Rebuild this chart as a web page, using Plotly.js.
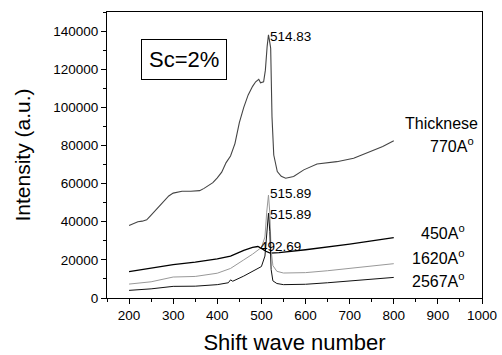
<!DOCTYPE html>
<html>
<head>
<meta charset="utf-8">
<script src="https://cdn.plot.ly/plotly-3.0.1.min.js"></script>
<style>html,body{margin:0;padding:0;background:#fff;}#chart{width:502px;height:355px;}</style>
</head>
<body>
<div id="chart"></div>
<script>
// Thickness 770 A
const x770 = [200,210,220,230,240,250,260,270,280,290,300,310,320,340,360,370,380,390,400,410,420,430,440,450,460,470,480,487,494,498,505,509,513,516,518,521,524,528,536,545,555,573,596,626,671,709,747,775,800];
const y770 = [38000,39000,40000,40300,41000,43500,46000,49000,51500,53500,55000,55500,56000,56000,56300,57500,59000,60500,63000,66000,71000,74500,81000,92000,100000,106500,111000,113400,114700,112900,113400,119500,132000,138000,135500,131000,95000,75000,66300,63800,62800,63700,67200,70300,71500,73300,76800,79500,82500];
// Thickness 450 A
const x450 = [200,250,300,350,400,430,460,480,492,500,510,520,540,600,650,700,750,800];
const y450 = [13800,15500,17500,18800,20500,22000,25000,26500,27000,26000,24500,23500,23800,25300,26700,28300,30000,31700];
// Thickness 1620 A
const x1620 = [200,250,300,350,400,430,460,480,500,508,512,516,519,522,526,535,550,600,650,700,750,800];
const y1620 = [7300,8500,11000,11300,13000,15500,20000,23000,26500,32000,45000,54000,45000,25000,17000,14000,13100,13300,14300,15500,16700,18000];
// Thickness 2567 A
const x2567 = [200,250,300,350,400,425,430,435,460,480,500,508,512,516,519,522,526,535,550,600,650,700,750,800];
const y2567 = [4000,4800,6100,6200,7000,8000,9500,8800,11500,14000,16500,22000,35000,44500,35000,15000,9000,7600,7000,7200,8000,8800,9700,10800];

// peak labels
const peakText = ["514.83","515.89","515.89","492.69"];
const peakX = [514.83,515.89,515.89,492.69];
const peakY = [137300,54600,43600,26900];

const thickLabels = ["770A<sup>o</sup>","450A<sup>o</sup>","1620A<sup>o</sup>","2567A<sup>o</sup>"];

const F = "'Liberation Sans', Arial, sans-serif";

const traces = [
  {x:x770, y:y770, mode:'lines', line:{color:'#444444', width:1.1}},
  {x:x450, y:y450, mode:'lines', line:{color:'#000000', width:1.3}},
  {x:x1620, y:y1620, mode:'lines', line:{color:'#999999', width:1}},
  {x:x2567, y:y2567, mode:'lines', line:{color:'#111111', width:1}}
];

const L = 107, R = 482, T = 12, B = 298;
const px = v => (v - L) / (R - L);
const py = v => (B - v) / (B - T);

const ann = [];
for (let i=0;i<peakText.length;i++){
  ann.push({x:peakX[i], y:peakY[i], xref:'x', yref:'y', text:peakText[i], showarrow:false,
    xanchor:'left', yanchor:'middle', font:{family:F, size:13.5, color:'#000'}});
}
ann.push({x:px(480), y:py(123), xref:'paper', yref:'paper', text:'Thicknese', showarrow:false, xanchor:'right', yanchor:'middle', font:{family:F,size:16,color:'#000'}});
const labYpx = [145, 231.7, 256.7, 280];
const labRight = [476, 467, 467, 467];
for (let i=0;i<thickLabels.length;i++){
  ann.push({x:px(labRight[i]), y:py(labYpx[i]), xref:'paper', yref:'paper', text:thickLabels[i], showarrow:false,
    xanchor:'right', yanchor:'middle', font:{family:F,size:16,color:'#000'}});
}
ann.push({x:px(183.5), y:py(60), xref:'paper', yref:'paper', text:'Sc=2%', showarrow:false,
  xanchor:'center', yanchor:'middle', font:{family:F,size:22,color:'#000'}, bordercolor:'#000', borderwidth:1, borderpad:7, bgcolor:'#fff'});

const layout = {
  width:502, height:355,
  margin:{l:L, r:502-R, t:T, b:355-B},
  paper_bgcolor:'#fff', plot_bgcolor:'#fff',
  showlegend:false,
  font:{family:F, color:'#000'},
  xaxis:{range:[150,1000], tickvals:[200,300,400,500,600,700,800,900,1000], ticks:'outside', ticklen:5, tickwidth:1, tickcolor:'#000',
    minor:{dtick:50, tick0:0, ticks:'outside', ticklen:3, tickcolor:'#000'},
    showgrid:false, zeroline:false, showline:true, linecolor:'#000', linewidth:1, mirror:true,
    tickfont:{family:F,size:13.5,color:'#000'},
    title:{text:'Shift wave number', font:{family:F,size:22,color:'#000'}, standoff:12}},
  yaxis:{range:[0,150000], dtick:20000, tick0:0, ticks:'outside', ticklen:5, tickwidth:1, tickcolor:'#000',
    minor:{dtick:10000, ticks:'outside', ticklen:3, tickcolor:'#000'},
    showgrid:false, zeroline:false, showline:true, linecolor:'#000', linewidth:1, mirror:true,
    tickformat:'d', separatethousands:false,
    tickfont:{family:F,size:13.5,color:'#000'},
    title:{text:'Intensity (a.u.)', font:{family:F,size:21,color:'#000'}, standoff:16}},
  annotations:ann
};
Plotly.newPlot('chart', traces, layout, {displayModeBar:false, staticPlot:true});
</script>
</body>
</html>
